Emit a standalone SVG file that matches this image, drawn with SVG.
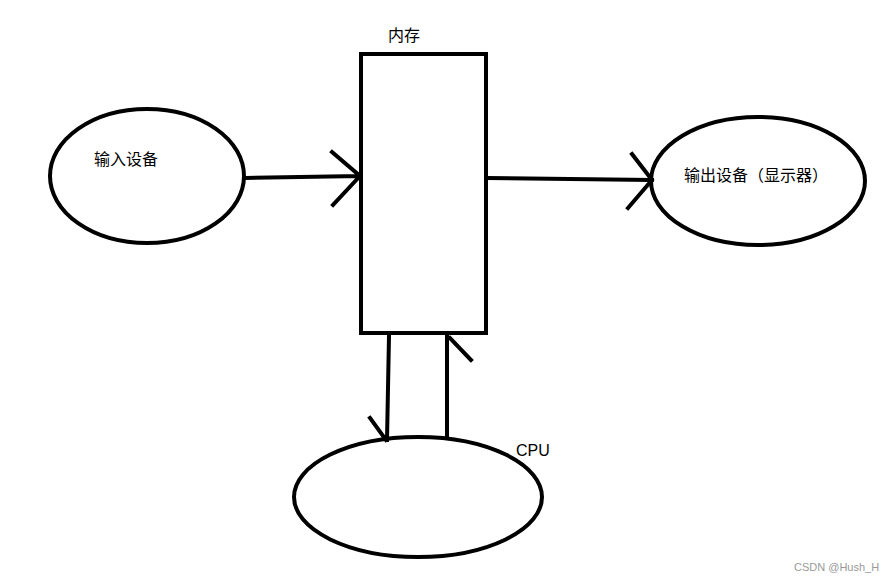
<svg xmlns="http://www.w3.org/2000/svg" width="892" height="582" viewBox="0 0 892 582">
<style>
.s{fill:none;stroke:#000;stroke-width:4;stroke-linecap:square}
.t{font-family:"Liberation Sans","Noto Sans CJK SC",sans-serif;font-size:16px;fill:#000}
</style>
<rect width="892" height="582" fill="#fff"/>
<g id="input"><ellipse class="s" cx="147" cy="176" rx="97" ry="67"/><text class="t" x="94" y="165">输入设备</text></g>
<g id="memory"><rect class="s" x="361" y="54" width="125" height="279"/><text class="t" x="388" y="41">内存</text></g>
<g id="output"><ellipse class="s" cx="758" cy="181" rx="107" ry="64"/><text class="t" x="684" y="181">输出设备（显示器）</text></g>
<g id="cpu"><ellipse class="s" cx="418" cy="497" rx="124" ry="60"/><text class="t" x="516" y="456">CPU</text></g>
<g id="connectors">
<path class="s" d="M246 178L360 176M332 152L360 176L333 205"/>
<path class="s" d="M487 178L652 180M632 154L652 180L628 208"/>
<path class="s" d="M389 336L387 440M370 418L386 440"/>
<path class="s" d="M447 438L447 336M471 360L450 338"/>
</g>
<text x="794" y="571" style="font-family:'Liberation Sans',sans-serif;font-size:11px;fill:#999">CSDN @Hush_H</text>
</svg>
